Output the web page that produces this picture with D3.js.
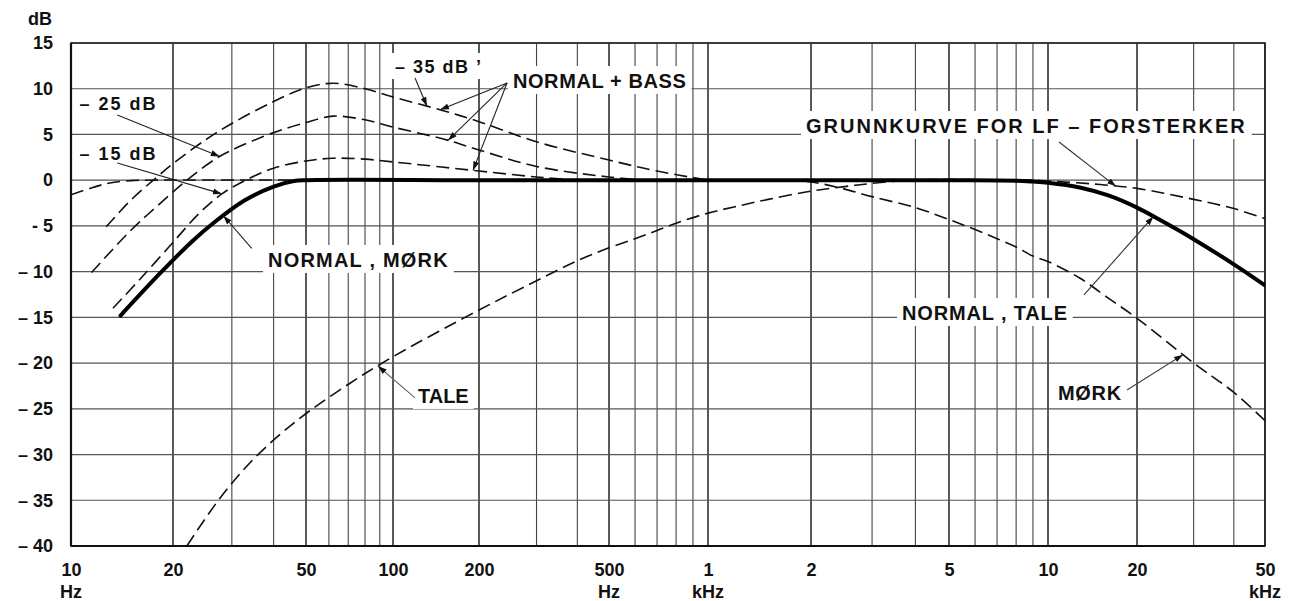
<!DOCTYPE html>
<html><head><meta charset="utf-8">
<script src="https://cdn.jsdelivr.net/npm/d3@7"></script>
<style>
html,body{margin:0;padding:0;background:#fff;}
svg{display:block;}
text{font-family:"Liberation Sans",Arial,Helvetica,sans-serif;font-weight:bold;fill:#111;}
</style>
</head><body>
<svg id="c" width="1290" height="601"></svg>
<script>
// ---------------- data ----------------
const xTickValues = [10,20,50,100,200,500,1000,2000,5000,10000,20000,50000];
const xTickLabels = ["10","20","50","100","200","500","1","2","5","10","20","50"];
const xUnitLabels = ["Hz","","","","","Hz","kHz","","","","","kHz"];
const yTickValues = [15,10,5,0,-5,-10,-15,-20,-25,-30,-35,-40];
const yTickLabels = ["15","10","5","0","- 5","– 10","– 15","– 20","– 25","– 30","– 35","– 40"];

// [frequency Hz, level dB]
const normalMork = [[14,-14.8],[18.3,-10.2],[22.8,-6.7],[26.6,-4.6],[32.8,-2.2],[40,-0.7],[46,-0.1],[50,0],[200,0],[1000,0],[5000,0],[8000,-0.05],[9000,-0.15],[10000,-0.28],[12800,-0.8],[16000,-1.67],[20000,-3.0],[24000,-4.5],[30000,-6.45],[40000,-9.2],[50000,-11.5]];
const grunnkurve = [[10,-1.6],[11.6,-0.8],[13,-0.3],[15,-0.05],[17,0],[100,0],[1000,0],[9000,0],[10000,-0.1],[14000,-0.4],[20000,-0.9],[30000,-2.1],[40000,-3.1],[50000,-4.2]];
const bass15 = [[13.3,-14],[16,-10.8],[20,-6.8],[24,-3.6],[28,-1.5],[33,0],[40,1.3],[50,2.1],[62,2.4],[80,2.3],[100,2.0],[200,1.0],[300,0.35],[400,0]];
const bass25 = [[11.5,-10.1],[15,-5.5],[18,-2.8],[22,0],[27,2.4],[30,3.3],[40,5.2],[50,6.3],[62,7.0],[80,6.6],[100,5.8],[150,4.5],[200,3.3],[300,1.5],[500,0.35],[650,0]];
const bass35 = [[12.7,-5.1],[15,-2.2],[17.5,0],[20,1.8],[25,4.4],[30,6.2],[40,8.6],[50,10.1],[62,10.6],[80,10.0],[100,9.1],[150,7.6],[200,6.4],[300,4.2],[500,2.2],[700,1.0],[1000,0]];
const tale = [[22,-40],[27.6,-34.8],[34,-30.9],[41.8,-27.8],[51.6,-25.2],[71,-22.2],[100,-19.3],[200,-14.2],[300,-11.0],[400,-8.8],[500,-7.4],[600,-6.4],[700,-5.5],[800,-4.7],[1000,-3.6],[1200,-2.9],[1500,-2.1],[2000,-1.2],[2500,-0.7],[3000,-0.35],[3800,0]];
const mork = [[1700,0],[2000,-0.2],[2400,-0.8],[3000,-1.8],[4000,-3.0],[5000,-4.3],[6000,-5.4],[7000,-6.4],[8000,-7.3],[9000,-8.3],[10000,-8.9],[12800,-10.7],[16000,-12.9],[20000,-15.1],[30000,-20],[40000,-23.2],[50000,-26.3]];

(function(){
// ---------------- layout ----------------
const W = 1290, H = 601;
const pL = 71, pR = 1265, pT = 43, pB = 546;
const svg = d3.select("#c");
svg.append("rect").attr("width",W).attr("height",H).attr("fill","#fff");

// log frequency scale anchored at the printed 1-2-5 grid lines
const x = d3.scaleLog()
  .domain(xTickValues)
  .range([71,173,306,393,479,609,708,811,949,1048,1137,1265]);
const y = d3.scaleLinear().domain([-40,15]).range([pB, pT]);

// grid frequencies (1..9 per decade)
const gridFreqs = [];
[10,100,1000].forEach(dec => { for (let m=1;m<=9;m++) gridFreqs.push(m*dec); });
for (let m=1;m<=5;m++) gridFreqs.push(m*10000);

const grid = svg.append("g");
grid.selectAll("line.v").data(gridFreqs).join("line")
  .attr("x1", d=>x(d)).attr("x2", d=>x(d))
  .attr("y1", pT).attr("y2", pB)
  .attr("stroke", d => xTickValues.includes(d) ? "#222" : "#444")
  .attr("stroke-width", d => xTickValues.includes(d) ? 1.5 : 1.1);
grid.selectAll("line.h").data(yTickValues).join("line")
  .attr("x1", pL).attr("x2", pR)
  .attr("y1", d=>y(d)).attr("y2", d=>y(d))
  .attr("stroke", "#555").attr("stroke-width", 1.2);

// frame
svg.append("rect").attr("x",pL).attr("y",pT).attr("width",pR-pL).attr("height",pB-pT)
  .attr("fill","none").attr("stroke","#222").attr("stroke-width",1.6);
svg.append("line").attr("x1",pL).attr("x2",pL).attr("y1",pT).attr("y2",pB)
  .attr("stroke","#111").attr("stroke-width",2.2);
svg.append("line").attr("x1",pL).attr("x2",pR).attr("y1",pB).attr("y2",pB)
  .attr("stroke","#111").attr("stroke-width",2);

// axes (labels only)
const xAxis = svg.append("g").attr("transform",`translate(0,${pB})`)
  .call(d3.axisBottom(x).tickValues(xTickValues).tickFormat((d,i)=>xTickLabels[i]).tickSize(0).tickPadding(17));
xAxis.select(".domain").remove();
xAxis.attr("font-family",null).attr("font-size",null);
xAxis.selectAll("text").attr("font-size",18).attr("fill","#111");
const units = svg.append("g");
units.selectAll("text").data(xTickValues.map((v,i)=>({v,u:xUnitLabels[i]})).filter(d=>d.u)).join("text")
  .attr("x", d=>x(d.v)).attr("y", 598).attr("text-anchor","middle").attr("font-size",18)
  .text(d=>d.u);

const yAxis = svg.append("g").attr("transform",`translate(${pL},0)`)
  .call(d3.axisLeft(y).tickValues(yTickValues).tickFormat((d,i)=>yTickLabels[i]).tickSize(0).tickPadding(18));
yAxis.select(".domain").remove();
yAxis.attr("font-family",null).attr("font-size",null);
yAxis.selectAll("text").attr("font-size",18).attr("fill","#111");
svg.append("text").attr("x",40).attr("y",25).attr("text-anchor","middle").attr("font-size",18).text("dB");

// curves
svg.append("clipPath").attr("id","plot").append("rect")
  .attr("x",pL).attr("y",pT).attr("width",pR-pL).attr("height",pB-pT);
const line = d3.line().x(d=>x(d[0])).y(d=>y(d[1])).curve(d3.curveCatmullRom.alpha(0.5));
const curves = svg.append("g").attr("clip-path","url(#plot)");
const dashed = [grunnkurve, bass15, bass25, bass35, tale, mork];
curves.selectAll("path.d").data(dashed).join("path")
  .attr("d", line).attr("fill","none").attr("stroke","#111")
  .attr("stroke-width",1.6).attr("stroke-dasharray","13,6");
curves.append("path").datum(normalMork).attr("d", line)
  .attr("fill","none").attr("stroke","#000").attr("stroke-width",4).attr("stroke-linecap","round");

// value of a series at frequency f (log-linear)
function at(series, f){
  for (let i=0;i<series.length-1;i++){
    const a=series[i], b=series[i+1];
    if (f>=a[0] && f<=b[0]){
      const t=(Math.log(f)-Math.log(a[0]))/(Math.log(b[0])-Math.log(a[0]));
      return a[1]+t*(b[1]-a[1]);
    }
  }
  return series[series.length-1][1];
}

// arrowhead
svg.append("defs").append("marker").attr("id","ah")
  .attr("markerUnits","userSpaceOnUse").attr("markerWidth",10).attr("markerHeight",8)
  .attr("refX",9).attr("refY",4).attr("orient","auto")
  .append("path").attr("d","M0,1 L9,4 L0,7 z").attr("fill","#111");

const arrows = [
  {from:[119.4,11.18], to:[131.5, at(bass35,131.5)], c:"#222"},
  {from:[243.7,10.63], to:[146, at(bass35,146)], c:"#222"},
  {from:[243.7,10.63], to:[155.8, at(bass25,155.8)], c:"#222"},
  {from:[243.7,10.63], to:[190.5, at(bass15,190.5)], c:"#222"},
  {from:[13.7,7.13], to:[27.6, at(bass25,27.6)], c:"#222"},
  {from:[13.7,1.88], to:[28.0, at(bass15,28.0)], c:"#222"},
  {from:[34.4,-7.45], to:[28.3, at(normalMork,28.3)], c:"#222"},
  {from:[119.4,-23.8], to:[88.7, at(tale,88.7)], c:"#666"},
  {from:[10895,4.18], to:[16980, at(grunnkurve,16980)], c:"#333"},
  {from:[13236,-12.55], to:[22492, at(normalMork,22492)], c:"#333"},
  {from:[18500,-22.94], to:[27800, at(mork,27800)], c:"#444"}
];

const labels = [
  {t:"– 35 dB ’", f:101.6, db:11.72, fs:18, ls:1.5},
  {t:"NORMAL + BASS", f:254, db:10.08, fs:20, ls:0.6},
  {t:"– 25 dB", f:10.6, db:7.68, fs:18, ls:2},
  {t:"– 15 dB", f:10.6, db:2.21, fs:18, ls:2},
  {t:"NORMAL , MØRK", f:38.5, db:-9.49, fs:20, ls:1.2},
  {t:"TALE", f:122.3, db:-24.36, fs:20, ls:0},
  {t:"GRUNNKURVE FOR LF – FORSTERKER", f:1934, db:5.16, fs:20, ls:2},
  {t:"NORMAL , TALE", f:3659, db:-15.29, fs:20, ls:0.85},
  {t:"MØRK", f:10810, db:-24.03, fs:20, ls:0.7}
];

const lab = svg.append("g");
labels.forEach(L => {
  const g = lab.append("g");
  const bg = g.append("rect").attr("fill","#fff");
  const t = g.append("text").attr("x", x(L.f)).attr("y", y(L.db))
    .attr("font-size", L.fs).style("letter-spacing", L.ls+"px").text(L.t);
  const b = t.node().getBBox();
  bg.attr("x", b.x-5).attr("y", b.y-4).attr("width", b.width+10).attr("height", b.height+6);
});

svg.append("g").selectAll("line").data(arrows).join("line")
  .attr("x1", d=>x(d.from[0])).attr("y1", d=>y(d.from[1]))
  .attr("x2", d=>x(d.to[0])).attr("y2", d=>y(d.to[1]))
  .attr("stroke", d=>d.c).attr("stroke-width",1.1)
  .attr("marker-end","url(#ah)");
})();
</script>
</body></html>
